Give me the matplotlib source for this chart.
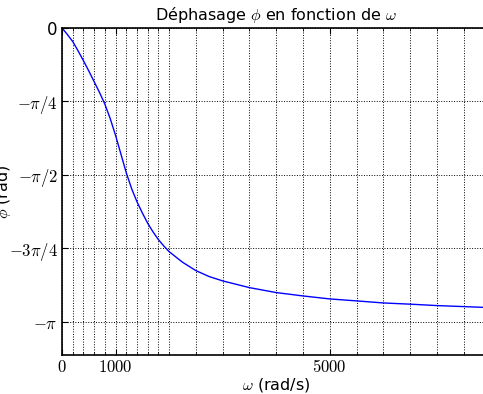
import numpy as np
import matplotlib
matplotlib.use('Agg')
import matplotlib.pyplot as plt

plt.rcParams['mathtext.fontset'] = 'cm'

# pulsation (rad/s) and phase (rad)
omega = [0, 100, 200, 300, 400, 500, 600, 700, 800, 900, 1000, 1100, 1200, 1300,
         1400, 1500, 1600, 1700, 1800, 1900, 2000, 2250, 2500, 2750, 3000, 3500,
         4000, 4500, 5000, 5500, 6000, 6500, 7000, 7500, 8000]
phase = [0.0, -0.07, -0.145, -0.245, -0.35, -0.46, -0.575, -0.69, -0.815,
         -0.97, -1.15, -1.35, -1.55, -1.72, -1.86, -1.98, -2.09, -2.183,
         -2.265, -2.333, -2.394, -2.507, -2.597, -2.661, -2.707, -2.779, -2.832,
         -2.868, -2.900, -2.921, -2.943, -2.956, -2.971, -2.982, -2.993]

x_major = [0, 1000, 5000]
x_major_labels = ['$0$', '$1000$', '$5000$']
x_minor = list(range(200, 2001, 200)) + list(range(2500, 7501, 500))
y_ticks = [0, -np.pi / 4, -np.pi / 2, -3 * np.pi / 4, -np.pi]
y_labels = ['0', r'$-\pi/4$', r'$-\pi/2$', r'$-3\pi/4$', r'$-\pi$']

fig = plt.figure(figsize=(4.83, 3.94), dpi=100)
ax = fig.add_axes([0.1284, 0.099, 0.887, 0.830])

ax.plot(omega, phase, color='#0000ff', lw=1)

ax.set_xlim(0, 8000)
ax.set_ylim(-3.5, 0)
ax.set_xticks(x_major)
ax.set_xticklabels(x_major_labels, fontsize=12)
ax.set_xticks(x_minor, minor=True)
ax.set_yticks(y_ticks)
ax.set_yticklabels(y_labels, fontsize=12)
ax.tick_params(which='both', direction='in', top=True, right=True)
ax.tick_params(which='major', length=4, pad=3)
ax.tick_params(axis='x', which='major', pad=2)
ax.tick_params(which='minor', length=2)

ax.grid(True, which='both', axis='x', color='k', linestyle=':', linewidth=0.7)
ax.grid(True, which='major', axis='y', color='k', linestyle=':', linewidth=0.7)

ax.set_title(r'Déphasage $\phi$ en fonction de $\omega$', fontsize=11.5)
ax.set_xlabel(r'$\omega$ (rad/s)', fontsize=11.5, labelpad=0)
ax.set_ylabel(r'$\phi$ (rad)', fontsize=11.5)
ax.yaxis.set_label_coords(-0.115, 0.5)

for s in ax.spines.values():
    s.set_linewidth(1.2)

fig.savefig('out.png', dpi=100)
